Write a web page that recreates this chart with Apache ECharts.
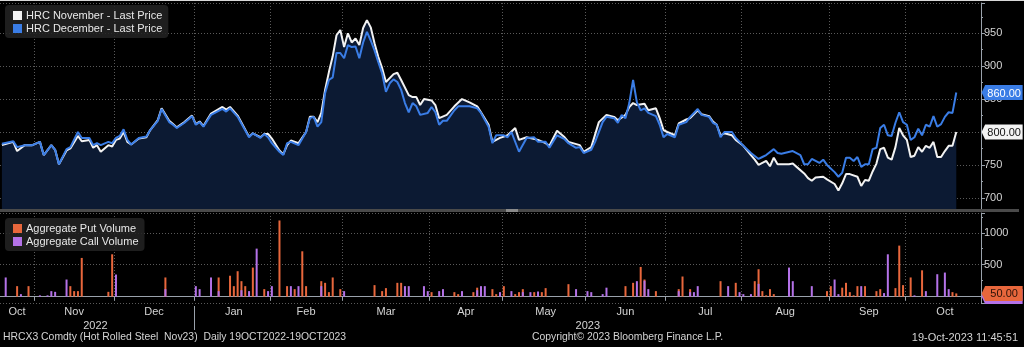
<!DOCTYPE html>
<html>
<head>
<meta charset="utf-8">
<title>HRC Futures</title>
<script src="https://cdn.jsdelivr.net/npm/echarts@6.0.0/dist/echarts.min.js"></script>
<style>
  html, body { margin: 0; padding: 0; background: #000; }
  #chart { width: 1024px; height: 347px; }
</style>
</head>
<body>
<div id="chart"></div>
<script>
// ---- Session calendar (weekdays, exchange holidays removed) ----
const HOLIDAYS = ['2022-11-24', '2022-12-26', '2023-01-02', '2023-01-16', '2023-02-20',
  '2023-04-07', '2023-05-29', '2023-06-19', '2023-07-04', '2023-09-04'];
const FIRST_SESSION = '2022-10-19';
const AXIS_END = '2023-10-27';   // axis runs a few sessions past the last print
const MONTHS = ['Jan', 'Feb', 'Mar', 'Apr', 'May', 'Jun', 'Jul', 'Aug', 'Sep', 'Oct', 'Nov', 'Dec'];

// ---- Prices: [session number, price] ----
const NOV_NAME = 'HRC November - Last Price';
const DEC_NAME = 'HRC December - Last Price';
const NOV_PX = [[0,780],[3,785],[4,771],[6,780],[8,780],[10,785],[11,765],[13,780],[14,773],[15,751],[17,772],[18,775],[20,794],[21,786],[23,788],[24,776],[25,780],[26,770],[28,780],[29,778],[30,788],[31,790],[32,800],[33,785],[34,781],[36,790],[38,792],[39,803],[41,818],[42,836],[44,817],[45,812],[46,807],[48,815],[50,825],[51,812],[52,816],[53,809],[55,828],[58,838],[59,834],[60,838],[62,825],[65,793],[66,798],[68,792],[69,797],[70,797],[71,790],[73,772],[74,766],[75,780],[76,787],[78,783],[80,800],[81,823],[82,823],[83,815],[84,829],[85,864],[86,891],[87,915],[88,947],[89,955],[90,929],[91,950],[92,936],[93,942],[94,932],[95,958],[96,970],[97,959],[98,935],[99,914],[100,897],[101,876],[103,888],[104,890],[105,879],[107,856],[108,853],[109,853],[110,841],[111,850],[113,848],[114,841],[115,821],[117,826],[119,839],[121,850],[123,845],[125,839],[126,830],[128,811],[129,785],[131,791],[133,795],[135,806],[136,788],[138,792],[141,788],[143,783],[144,779],[146,802],[148,792],[149,785],[152,780],[153,770],[155,777],[157,815],[159,826],[161,823],[162,818],[164,826],[165,838],[166,844],[167,841],[169,843],[170,833],[172,836],[173,821],[174,803],[175,800],[177,795],[178,813],[180,819],[181,821],[183,833],[184,827],[186,824],[187,816],[188,811],[189,795],[190,798],[192,795],[193,788],[195,779],[197,765],[198,758],[199,750],[201,756],[202,748],[203,761],[204,751],[207,751],[208,752],[209,747],[211,737],[212,730],[213,726],[214,731],[216,732],[217,728],[219,721],[220,711],[221,722],[222,736],[223,736],[225,732],[226,718],[227,727],[228,726],[229,740],[230,752],[231,774],[232,776],[233,761],[234,758],[235,777],[236,806],[237,795],[238,788],[239,762],[240,764],[241,777],[242,770],[243,779],[244,776],[245,785],[246,762],[247,762],[248,771],[249,779],[250,779],[251,800]];
const DEC_PX = [[0,782],[3,786],[4,777],[6,780],[8,780],[10,785],[11,765],[13,780],[14,773],[15,751],[17,774],[18,777],[20,800],[21,791],[23,791],[24,780],[25,783],[26,780],[28,785],[29,783],[30,791],[31,794],[32,804],[33,788],[34,781],[36,791],[38,793],[39,803],[41,817],[42,835],[44,815],[45,811],[46,806],[48,814],[50,824],[51,811],[52,815],[53,808],[55,826],[58,835],[59,831],[60,836],[62,823],[65,792],[66,798],[68,791],[69,797],[70,792],[71,783],[73,770],[74,765],[75,783],[76,785],[78,780],[80,800],[81,821],[82,823],[83,808],[84,815],[85,859],[86,879],[87,883],[88,920],[89,920],[90,912],[91,932],[92,929],[93,930],[94,912],[95,936],[96,952],[97,939],[98,924],[99,906],[100,889],[101,861],[102,874],[103,880],[104,876],[105,864],[106,844],[107,830],[108,844],[109,839],[110,826],[112,829],[113,838],[114,830],[115,811],[116,817],[117,817],[119,833],[120,839],[123,839],[125,836],[126,829],[128,808],[129,783],[130,795],[132,795],[133,792],[134,800],[136,770],[138,791],[140,792],[141,785],[143,785],[144,776],[146,795],[148,789],[149,783],[151,776],[152,777],[153,768],[155,773],[156,785],[158,815],[159,823],[161,821],[162,814],[163,826],[164,821],[165,844],[166,879],[167,845],[168,833],[169,836],[170,829],[172,824],[173,811],[174,792],[175,797],[177,792],[178,811],[180,815],[181,823],[183,835],[184,826],[186,823],[187,814],[188,811],[189,792],[190,800],[192,800],[193,791],[195,779],[197,768],[199,759],[200,762],[201,765],[203,774],[204,768],[205,767],[208,771],[210,765],[211,751],[212,751],[213,759],[215,753],[216,758],[217,750],[219,739],[220,732],[221,738],[222,761],[223,761],[224,756],[225,762],[226,747],[227,751],[228,751],[229,774],[230,776],[231,806],[232,811],[233,795],[234,794],[235,814],[236,830],[237,815],[238,811],[239,788],[240,792],[241,805],[242,795],[243,811],[244,808],[245,824],[246,808],[247,812],[248,823],[249,830],[250,829],[251,860]];

// ---- Option volume: [session number, contracts] ----
const PUT_NAME = 'Aggregate Put Volume';
const CALL_NAME = 'Aggregate Call Volume';
const PUT_VOL = [[4,164],[7,164],[18,164],[19,86],[20,86],[21,606],[28,75],[29,663],[43,300],[57,300],[60,327],[61,164],[62,398],[63,242],[64,164],[66,455],[69,117],[73,1193],[75,164],[77,117],[79,710],[80,164],[84,242],[85,216],[86,70],[87,300],[89,117],[98,180],[100,86],[101,133],[104,216],[105,216],[113,70],[119,70],[120,39],[124,70],[125,140],[129,117],[130,39],[132,164],[135,39],[136,70],[137,117],[140,70],[142,70],[143,133],[149,195],[164,164],[166,216],[168,465],[169,268],[172,86],[178,117],[179,315],[181,117],[189,242],[193,216],[198,242],[199,429],[200,86],[201,20],[202,117],[203,39],[217,86],[218,164],[221,140],[222,216],[223,70],[224,20],[225,164],[227,164],[230,86],[231,117],[235,133],[236,799],[237,180],[239,300],[242,412],[250,70],[251,50]];
const CALL_VOL = [[1,300],[5,39],[10,20],[12,20],[13,86],[14,75],[17,268],[30,346],[43,117],[51,164],[52,117],[55,300],[57,86],[63,100],[65,86],[67,752],[70,86],[71,164],[76,164],[78,164],[84,164],[90,86],[106,164],[107,164],[111,164],[112,86],[115,86],[116,117],[121,86],[125,100],[126,164],[127,164],[131,70],[134,86],[137,70],[139,70],[141,80],[151,117],[154,86],[155,70],[158,39],[159,140],[167,242],[169,250],[170,117],[178,86],[181,70],[182,70],[183,164],[191,164],[194,70],[195,39],[197,39],[199,200],[207,455],[208,242],[213,164],[219,268],[220,39],[226,164],[232,55],[233,663],[240,20],[243,86],[246,351],[248,377],[249,117],[251,0]];

// ---- Footer text ----
const FOOT_LEFT = 'HRCX3 Comdty (Hot Rolled Steel  Nov23)  Daily 19OCT2022-19OCT2023';
const FOOT_MID = 'Copyright\u00A9 2023 Bloomberg Finance L.P.';
const FOOT_RIGHT = '19-Oct-2023 11:45:51';

// ---- Build the session list ----
function buildSessions(from, to) {
  const out = [];
  const hol = new Set(HOLIDAYS);
  const d = new Date(from + 'T00:00:00Z');
  const end = new Date(to + 'T00:00:00Z');
  while (d <= end) {
    const wd = d.getUTCDay();
    const iso = d.toISOString().slice(0, 10);
    if (wd !== 0 && wd !== 6 && !hol.has(iso)) out.push(iso);
    d.setUTCDate(d.getUTCDate() + 1);
  }
  return out;
}
const DATES = buildSessions(FIRST_SESSION, AXIS_END);
const LAST_SLOT = DATES[DATES.length - 1];

// month boundaries and mid-month label slots
const monthStart = new Set();
const monthMid = new Set();
(function () {
  let s = 0;
  for (let i = 1; i <= DATES.length; i++) {
    if (i === DATES.length || DATES[i].slice(0, 7) !== DATES[i - 1].slice(0, 7)) {
      if (s > 0) monthStart.add(s);
      monthMid.add(Math.floor((s + i) / 2));
      s = i;
    }
  }
})();
const yearStart = DATES.findIndex(d => d.slice(0, 4) !== DATES[0].slice(0, 4));
const yearMid = new Set([Math.floor(yearStart / 2), Math.floor((yearStart + DATES.length) / 2)]);

const FONT = "'Liberation Sans', Arial, sans-serif";
const TXT = '#d4d4d4';
const AXIS_CLR = '#9aa2ab';
const GRID_LINE = { show: true, lineStyle: { color: '#5a5a5a', type: [1, 2], width: 1 } };
const last = arr => arr[arr.length - 1][1];

// arrow-shaped last-value tag pinned to the right-hand axis
const TAG_PATH = 'path://M0,7.5 L3.5,0 L41,0 L41,15 L3.5,15 Z';
function tag(value, bg, fg, z) {
  return {
    silent: true,
    z: z,
    symbol: TAG_PATH,
    symbolSize: [41, 15],
    symbolKeepAspect: false,
    symbolOffset: [23, 0],
    itemStyle: { color: bg },
    label: {
      show: true, position: 'inside', offset: [2, 1],
      formatter: p => Number(p.value).toFixed(2),
      color: fg, fontSize: 11, fontFamily: FONT
    },
    data: [{ coord: [LAST_SLOT, value], value: value }]
  };
}

const footStyle = size => ({ fontSize: size, fontWeight: 'normal', color: TXT, fontFamily: FONT });

const chart = echarts.init(document.getElementById('chart'), null, { renderer: 'canvas' });
chart.setOption({
  backgroundColor: '#000',
  animation: false,
  textStyle: { fontFamily: FONT },
  title: [
    { text: FOOT_LEFT, left: 3, top: 332, padding: 0, textStyle: footStyle(10.4) },
    { text: FOOT_MID, left: 532, top: 332, padding: 0, textStyle: footStyle(10.4) },
    { text: FOOT_RIGHT, right: 6, top: 332, padding: 0, textStyle: footStyle(11) }
  ],
  legend: [
    {
      left: 5, top: 5, orient: 'vertical', icon: 'rect', itemWidth: 9, itemHeight: 9, itemGap: 2,
      data: [NOV_NAME, DEC_NAME], selectedMode: false,
      backgroundColor: 'rgba(34,34,34,0.88)', borderRadius: 4, padding: [5, 6, 4, 8],
      textStyle: { color: '#e8e8e8', fontSize: 11, fontFamily: FONT, padding: [0, 0, 0, -1] }
    },
    {
      left: 5, top: 218, orient: 'vertical', icon: 'rect', itemWidth: 9, itemHeight: 9, itemGap: 2,
      data: [PUT_NAME, CALL_NAME], selectedMode: false,
      backgroundColor: 'rgba(34,34,34,0.88)', borderRadius: 4, padding: [5, 6, 4, 8],
      textStyle: { color: '#e8e8e8', fontSize: 11, fontFamily: FONT, padding: [0, 0, 0, -1] }
    }
  ],
  graphic: [
    { type: 'rect', shape: { x: 0, y: 0, width: 1024, height: 1 }, style: { fill: '#d8d8d8' }, silent: true },
    { type: 'rect', shape: { x: 0, y: 209, width: 1019, height: 3 }, style: { fill: '#4a4a4a' }, silent: true, z: 50 },
    { type: 'rect', shape: { x: 506, y: 209, width: 12, height: 3 }, style: { fill: '#8a8a8a' }, silent: true, z: 51 }
  ],
  grid: [
    { left: 0, width: 981, top: 3, height: 206 },
    { left: 0, width: 981, top: 213, height: 90 }
  ],
  xAxis: [
    {
      gridIndex: 0, type: 'category', data: DATES, boundaryGap: true,
      axisLine: { show: false }, axisTick: { show: false }, axisLabel: { show: false },
      splitLine: Object.assign({ interval: i => monthStart.has(i) }, GRID_LINE)
    },
    {
      gridIndex: 1, type: 'category', data: DATES, boundaryGap: true,
      axisLine: { show: true, lineStyle: { color: AXIS_CLR, width: 1 } },
      axisTick: { show: true, interval: i => monthStart.has(i), length: 4, lineStyle: { color: AXIS_CLR } },
      axisLabel: {
        show: true, interval: i => monthMid.has(i), margin: 3, color: TXT, fontSize: 11,
        formatter: v => MONTHS[Number(v.slice(5, 7)) - 1]
      },
      splitLine: Object.assign({ interval: i => monthStart.has(i) }, GRID_LINE)
    },
    {
      // year row: a divider at the turn of the year and the year under each span
      gridIndex: 1, type: 'category', data: DATES, boundaryGap: false, position: 'bottom', offset: 3,
      axisLine: { show: false },
      axisTick: { show: true, interval: i => i === yearStart, length: 24, lineStyle: { color: AXIS_CLR } },
      axisLabel: {
        show: true, interval: i => yearMid.has(i), margin: 14, color: TXT, fontSize: 11,
        formatter: v => v.slice(0, 4)
      },
      splitLine: { show: false }
    }
  ],
  yAxis: [
    {
      gridIndex: 0, type: 'value', position: 'right', min: 683, max: 996,
      minInterval: 50, maxInterval: 50, scale: true,
      axisLine: { show: true, lineStyle: { color: AXIS_CLR } },
      axisTick: { show: true, length: 4, lineStyle: { color: AXIS_CLR } },
      minorTick: { show: true, splitNumber: 2, length: 2, lineStyle: { color: AXIS_CLR } },
      axisLabel: { margin: 3, color: TXT, fontSize: 11, formatter: v => (v % 50 === 0 ? String(v) : '') },
      splitLine: GRID_LINE
    },
    {
      gridIndex: 1, type: 'value', position: 'right', min: -100, max: 1310,
      minInterval: 500, maxInterval: 500,
      axisLine: { show: true, lineStyle: { color: AXIS_CLR } },
      axisTick: { show: true, length: 4, lineStyle: { color: AXIS_CLR } },
      minorTick: { show: true, splitNumber: 2, length: 2, lineStyle: { color: AXIS_CLR } },
      axisLabel: { margin: 3, color: TXT, fontSize: 11, formatter: v => (v === 500 || v === 1000 ? String(v) : '') },
      splitLine: GRID_LINE
    }
  ],
  series: [
    {
      name: NOV_NAME, type: 'line', xAxisIndex: 0, yAxisIndex: 0, data: NOV_PX,
      showSymbol: false, symbol: 'none', color: '#f2f2f2',
      lineStyle: { color: '#f2f2f2', width: 2 },
      areaStyle: { color: '#0c1a33', opacity: 1, origin: 'start' },
      markPoint: tag(last(NOV_PX), '#f4f4f4', '#111', 20),
      z: 2
    },
    {
      name: DEC_NAME, type: 'line', xAxisIndex: 0, yAxisIndex: 0, data: DEC_PX,
      showSymbol: false, symbol: 'none', color: '#3a7de6',
      lineStyle: { color: '#3a7de6', width: 2 },
      markPoint: tag(last(DEC_PX), '#3a7de6', '#fff', 21),
      z: 3
    },
    {
      name: PUT_NAME, type: 'bar', xAxisIndex: 1, yAxisIndex: 1, data: PUT_VOL,
      color: '#e8673c', barWidth: 2, barGap: '-100%',
      markPoint: tag(last(PUT_VOL), '#e8673c', '#2a1208', 21),
      z: 3
    },
    {
      name: CALL_NAME, type: 'bar', xAxisIndex: 1, yAxisIndex: 1, data: CALL_VOL,
      color: '#b472e8', barWidth: 2, barGap: '-100%',
      markPoint: tag(last(CALL_VOL), '#b472e8', '#2a1238', 20),
      z: 4
    }
  ]
});
</script>
</body>
</html>
